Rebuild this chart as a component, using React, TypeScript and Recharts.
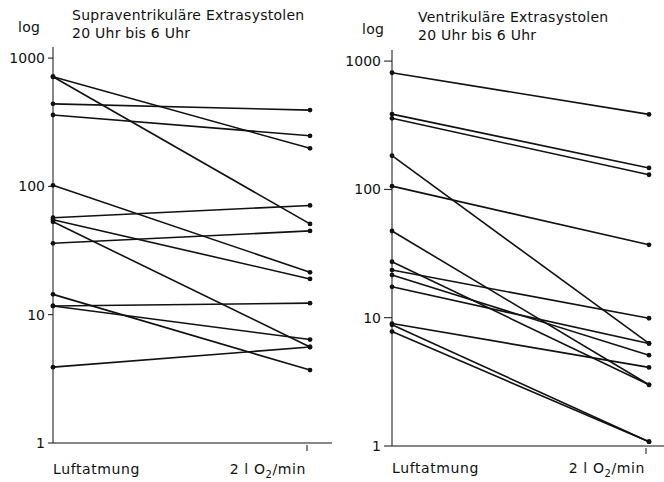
import { LineChart, Line, XAxis, YAxis } from "recharts";

const categories = ["Luftatmung", "2 l O2/min"];
const yTicks = [1, 10, 100, 1000];

// Supraventrikuläre Extrasystolen: Luftatmung -> 2 l O2/min
const supraLuft = [715, 715, 440, 360, 102, 57, 55, 53, 36, 14.4, 11.7, 11.7, 3.9];
const supraO2 = [198, 51, 393, 248, 21.4, 71, 19, 5.6, 45, 3.7, 12.3, 6.4, 5.6];

// Ventrikuläre Extrasystolen
const ventLuft = [811, 386, 358, 183, 106, 47.4, 27.3, 23.5, 21.5, 17.4, 9.0, 8.8, 7.8];
const ventO2 = [384, 147, 130, 6.3, 37, 3.0, 3.0, 9.9, 5.1, 6.3, 4.1, 1.08, 1.08];

const FONT = "'DejaVu Sans', sans-serif";
const INK = "#111";

function buildRows(before: number[], after: number[]) {
  return categories.map((cat, i) => {
    const row: Record<string, string | number> = { cat };
    (i === 0 ? before : after).forEach((v, k) => {
      row[`p${k}`] = v;
    });
    return row;
  });
}

function CatTick(props: any) {
  const { x, y, index, textDy } = props;
  if (index === 0) {
    return (
      <text x={x} y={y + textDy} textAnchor="start" fontFamily={FONT} fontSize={14} letterSpacing={0.6} fill={INK}>
        Luftatmung
      </text>
    );
  }
  return (
    <g>
      <line x1={x - 3} x2={x - 3} y1={y + 2} y2={y + 8} stroke={INK} strokeWidth={1} />
      <text x={x - 4} y={y + textDy} textAnchor="end" fontFamily={FONT} fontSize={14} letterSpacing={0.6} fill={INK}>
        2 l O<tspan dy={4} fontSize={10}>2</tspan>
        <tspan dy={-4}>/min</tspan>
      </text>
    </g>
  );
}

function Panel({
  before,
  after,
  top,
  yAxisWidth,
  padRight,
  tickSize,
  textDy,
  yMax,
}: {
  before: number[];
  after: number[];
  top: number;
  yAxisWidth: number;
  padRight: number;
  tickSize: number;
  textDy: number;
  yMax: number;
}) {
  const rows = buildRows(before, after);
  const bottomAxisY = top + 396;
  return (
    <LineChart
      width={332}
      height={482}
      data={rows}
      margin={{ top, right: 0, left: 0, bottom: 482 - bottomAxisY - 40 }}
    >
      <XAxis
        dataKey="cat"
        height={40}
        padding={{ left: 0, right: padRight }}
        axisLine={{ stroke: INK, strokeWidth: 1 }}
        tickLine={false}
        tickSize={0}
        tickMargin={0}
        interval={0}
        tick={<CatTick textDy={textDy} />}
      />
      <YAxis
        scale="log"
        domain={[1, yMax]}
        ticks={yTicks}
        allowDataOverflow
        width={yAxisWidth}
        axisLine={{ stroke: INK, strokeWidth: 1 }}
        tickLine={{ stroke: INK, strokeWidth: 1 }}
        tickSize={tickSize}
        tickMargin={3}
        tick={{ fontFamily: FONT, fontSize: 14, fill: INK }}
      />
      {before.map((_, k) => (
        <Line
          key={k}
          dataKey={`p${k}`}
          stroke={INK}
          strokeWidth={1.6}
          dot={{ r: 2.4, fill: INK, stroke: INK, strokeWidth: 0 }}
          isAnimationActive={false}
        />
      ))}
    </LineChart>
  );
}

export default function App() {
  const txt = { fontFamily: FONT, fontSize: 14, fill: INK, letterSpacing: 0.25 } as const;
  return (
    <div style={{ position: "absolute", left: 0, top: 0, width: 664, height: 482, background: "#fff" }}>
      <div style={{ position: "absolute", left: 0, top: 0 }}>
        <Panel before={supraLuft} after={supraO2} top={47} yAxisWidth={53} padRight={22} tickSize={5} textDy={31} yMax={1220} />
      </div>
      <div style={{ position: "absolute", left: 332, top: 0 }}>
        <Panel before={ventLuft} after={ventO2} top={50} yAxisWidth={60} padRight={15} tickSize={8} textDy={27} yMax={1220} />
      </div>
      <svg width={664} height={482} style={{ position: "absolute", left: 0, top: 0, pointerEvents: "none" }}>
        <text x={18} y={32} {...txt}>log</text>
        <text x={72} y={20} {...txt}>Supraventrikuläre Extrasystolen</text>
        <text x={72} y={38} {...txt}>20 Uhr bis 6 Uhr</text>
        <text x={362} y={34} {...txt}>log</text>
        <text x={418} y={22} {...txt}>Ventrikuläre Extrasystolen</text>
        <text x={418} y={40} {...txt}>20 Uhr bis 6 Uhr</text>
      </svg>
    </div>
  );
}
